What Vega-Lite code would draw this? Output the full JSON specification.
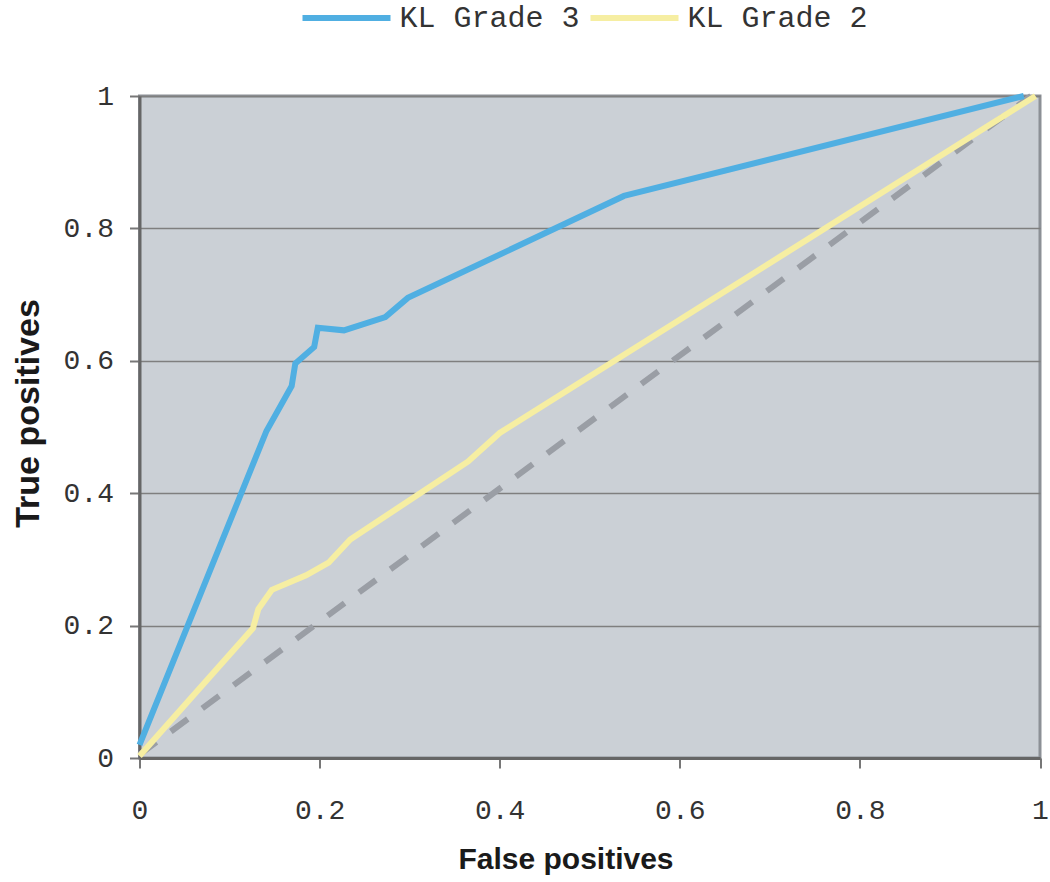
{
  "$schema": "https://vega.github.io/schema/vega-lite/v6.json",
  "width": 900.5,
  "height": 662,
  "autosize": {"type": "none"},
  "padding": {"left": 139.5, "top": 96, "right": 10, "bottom": 124},
  "background": "white",
  "config": {
    "view": {"stroke": "#8C9096", "strokeWidth": 3, "fill": "#CBD0D6"},
    "axis": {
      "labelFont": "Liberation Mono",
      "labelFontSize": 28,
      "labelColor": "#333333",
      "titleFont": "Liberation Sans",
      "titleFontWeight": "bold",
      "titleColor": "#1a1a1a",
      "domainColor": "#666666",
      "domainWidth": 3,
      "tickColor": "#777777",
      "tickWidth": 2,
      "tickSize": 10
    }
  },
  "datasets": {
    "diag": [
      {"x": 0, "y": 0.005},
      {"x": 0.99, "y": 1.0}
    ],
    "roc": [
      {"series": "KL Grade 2", "i": 1, "x": 0, "y": 0.003},
      {"series": "KL Grade 2", "i": 2, "x": 0.126, "y": 0.196},
      {"series": "KL Grade 2", "i": 3, "x": 0.132, "y": 0.225},
      {"series": "KL Grade 2", "i": 4, "x": 0.147, "y": 0.254},
      {"series": "KL Grade 2", "i": 5, "x": 0.185, "y": 0.276},
      {"series": "KL Grade 2", "i": 6, "x": 0.21, "y": 0.295},
      {"series": "KL Grade 2", "i": 7, "x": 0.234, "y": 0.33},
      {"series": "KL Grade 2", "i": 8, "x": 0.365, "y": 0.448},
      {"series": "KL Grade 2", "i": 9, "x": 0.4, "y": 0.491},
      {"series": "KL Grade 2", "i": 10, "x": 0.995, "y": 1.0},
      {"series": "KL Grade 3", "i": 1, "x": 0, "y": 0.02},
      {"series": "KL Grade 3", "i": 2, "x": 0.141, "y": 0.494},
      {"series": "KL Grade 3", "i": 3, "x": 0.169, "y": 0.562},
      {"series": "KL Grade 3", "i": 4, "x": 0.173, "y": 0.596},
      {"series": "KL Grade 3", "i": 5, "x": 0.194, "y": 0.621},
      {"series": "KL Grade 3", "i": 6, "x": 0.198, "y": 0.65},
      {"series": "KL Grade 3", "i": 7, "x": 0.227, "y": 0.646},
      {"series": "KL Grade 3", "i": 8, "x": 0.273, "y": 0.666},
      {"series": "KL Grade 3", "i": 9, "x": 0.298, "y": 0.695},
      {"series": "KL Grade 3", "i": 10, "x": 0.538, "y": 0.849},
      {"series": "KL Grade 3", "i": 11, "x": 0.982, "y": 1.0}
    ]
  },
  "layer": [
    {
      "data": {"name": "diag"},
      "mark": {"type": "line", "color": "#9A9EA5", "strokeWidth": 6, "strokeDash": [21, 18], "strokeCap": "butt"},
      "encoding": {
        "x": {
          "field": "x", "type": "quantitative",
          "scale": {"domain": [0, 1], "nice": false},
          "axis": {
            "title": "False positives",
            "titleFontSize": 30,
            "titlePadding": 20,
            "titleX": 426,
            "labelPadding": 28,
            "labelFlush": false,
            "values": [0, 0.2, 0.4, 0.6, 0.8, 1],
            "format": "~g",
            "grid": false
          }
        },
        "y": {
          "field": "y", "type": "quantitative",
          "scale": {"domain": [0, 1], "nice": false},
          "axis": {
            "title": "True positives",
            "titleFontSize": 34,
            "titlePadding": 18,
            "titleY": 317,
            "labelPadding": 16,
            "labelFlush": false,
            "values": [0, 0.2, 0.4, 0.6, 0.8, 1],
            "format": "~g",
            "grid": true,
            "gridColor": "#7f7f7f",
            "gridWidth": 1.5
          }
        }
      }
    },
    {
      "data": {"name": "roc"},
      "mark": {"type": "line", "strokeWidth": 6, "strokeJoin": "miter"},
      "encoding": {
        "x": {"field": "x", "type": "quantitative", "title": "False positives"},
        "y": {"field": "y", "type": "quantitative", "title": "True positives"},
        "order": {"field": "i"},
        "color": {
          "field": "series", "type": "nominal",
          "scale": {"domain": ["KL Grade 3", "KL Grade 2"], "range": ["#50AFE2", "#F6EEA2"]},
          "legend": {
            "orient": "none",
            "legendX": 160,
            "legendY": -125,
            "direction": "horizontal",
            "title": null,
            "symbolType": "stroke",
            "symbolSize": 7744,
            "symbolStrokeWidth": 6,
            "labelFont": "Liberation Mono",
            "labelFontSize": 30,
            "labelLimit": 400,
            "labelColor": "#333333",
            "labelOffset": 6,
            "columnPadding": -2
          }
        }
      }
    }
  ]
}
